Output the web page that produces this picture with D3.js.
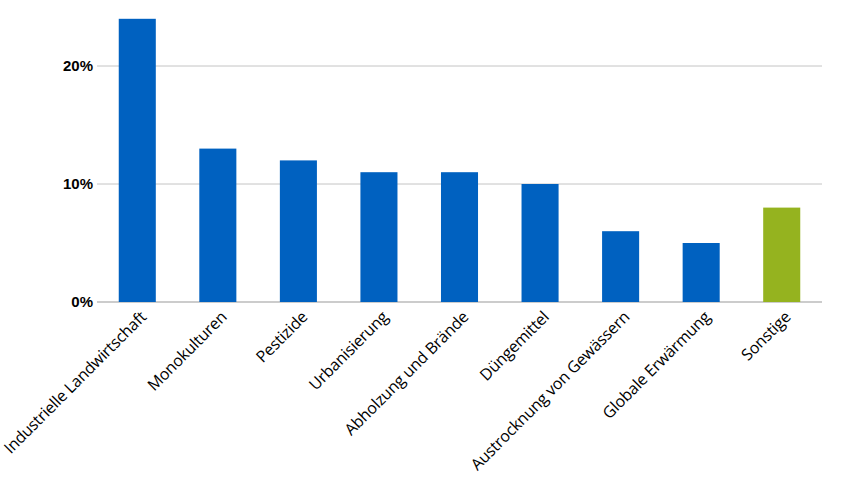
<!DOCTYPE html><html><head><meta charset="utf-8"><script src="https://cdn.jsdelivr.net/npm/d3@7"></script>
<style>body{margin:0;background:#fff}</style></head><body><svg width="848" height="484"></svg>
<script>
const categories=["Industrielle Landwirtschaft","Monokulturen","Pestizide","Urbanisierung","Abholzung und Brände","Düngemittel","Austrocknung von Gewässern","Globale Erwärmung","Sonstige"];
const values=[24,13,12,11,11,10,6,5,8];
const colors=["#0061c0","#0061c0","#0061c0","#0061c0","#0061c0","#0061c0","#0061c0","#0061c0","#95b31f"];
const ticks=[0,10,20];
const svg=d3.select("svg");
const x=d3.scaleBand().domain(categories).range([97,822]).paddingInner(0.54).paddingOuter(0.27);
const y=d3.scaleLinear().domain([0,20]).range([302,66]);
svg.append("g").selectAll("line").data(ticks).join("line")
 .attr("x1",97).attr("x2",822).attr("y1",d=>y(d)).attr("y2",d=>y(d))
 .attr("stroke",d=>d===0?"#999":"#c4c4c4").attr("stroke-width",1);
svg.append("g").selectAll("text").data(ticks).join("text")
 .attr("x",93).attr("y",d=>y(d)+5).attr("text-anchor","end")
 .style("font","bold 15px 'Liberation Sans',Arial,sans-serif").text(d=>d+"%");
svg.append("g").selectAll("rect").data(values).join("rect")
 .attr("x",(d,i)=>x(categories[i])).attr("width",x.bandwidth())
 .attr("y",d=>y(d)).attr("height",d=>y(0)-y(d)).attr("fill",(d,i)=>colors[i]);
svg.append("g").selectAll("text").data(categories).join("text")
 .attr("transform",d=>`translate(${x(d)+x.bandwidth()/2+10},${318}) rotate(-45)`)
 .attr("text-anchor","end")
 .style("font","16px 'Open Sans',sans-serif").style("letter-spacing","-0.2px").text(d=>d);
</script></body></html>
